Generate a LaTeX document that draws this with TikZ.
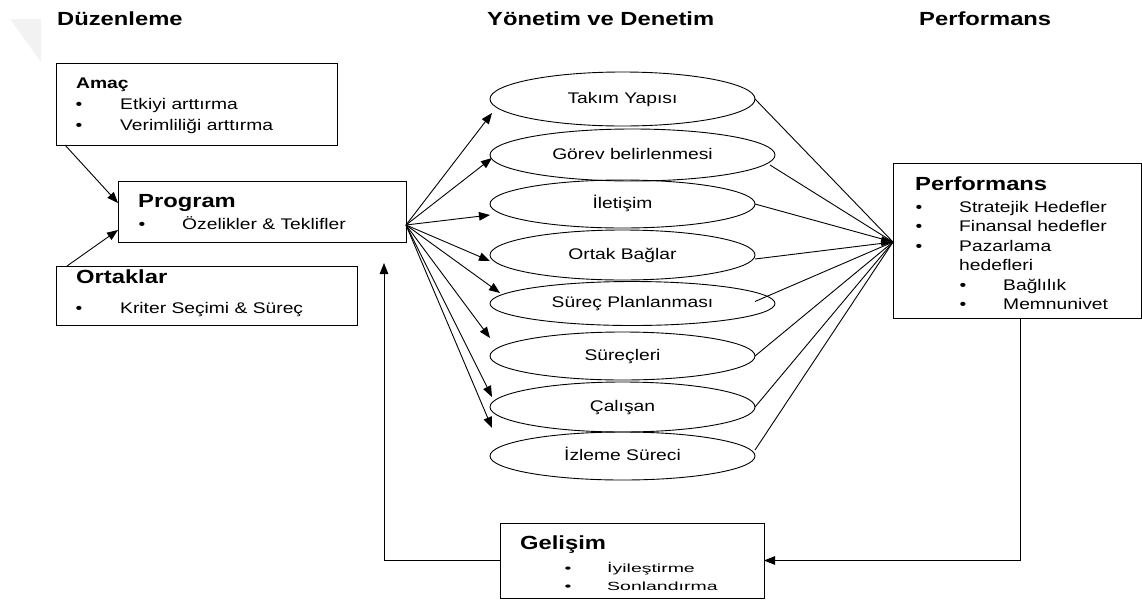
\documentclass[tikz,border=0pt]{standalone}
\usepackage{fontspec}
\setmainfont{Liberation Sans}[FakeStretch=1.25]
\newfontfamily\squashfont{Liberation Sans}[FakeStretch=1.65]
\usetikzlibrary{shapes.geometric,arrows.meta,calc}

\tikzset{
  box/.style={draw, line width=0.9pt, inner sep=0pt, outer sep=0pt, anchor=north west},
  oval/.style={draw, ellipse, line width=0.9pt, inner sep=0pt, outer sep=0pt,
    text height=11pt, text depth=3pt, font=\fontsize{15.4}{18}\selectfont},
  txt/.style={anchor=base west, inner sep=0pt, font=\fontsize{15.4}{18}\selectfont},
  smalltxt/.style={anchor=base west, inner sep=0pt, font=\squashfont\fontsize{11.8}{14}\selectfont},
  ttl/.style={anchor=base west, inner sep=0pt, font=\fontsize{19}{22}\selectfont\bfseries},
  subttl/.style={anchor=base west, inner sep=0pt, font=\fontsize{15.4}{18}\selectfont\bfseries},
  bul/.style={anchor=base, inner sep=0pt, font=\fontsize{15.4}{18}\selectfont},
  smallbul/.style={anchor=base, inner sep=0pt, font=\squashfont\fontsize{11.8}{14}\selectfont},
  arr/.style={-{Triangle[length=11pt,width=8.5pt]}, line width=0.9pt},
  linkline/.style={line width=0.9pt},
  hubarr/.style={-{Triangle[length=12pt,width=5pt]}, line width=0.9pt}
}

\begin{document}
\begin{tikzpicture}[x=1pt,y=-1pt]
\useasboundingbox (0,0) rectangle (1142,600);

% faint page corner
\fill[gray!10] (10,19) -- (41,19) -- (41,62) -- cycle;

% column headings
\node[ttl] (h1) at (57,25) {Düzenleme};
\node[ttl] (h2) at (487,25) {Yönetim ve Denetim};
\node[ttl] (h3) at (919,25) {Performans};

% left column boxes
\node[box, minimum width=281, minimum height=82] (amac) at (56,63) {};
\node[subttl] (amacT) at (76,88) {Amaç};
\node[bul] (amacD1) at (79,109) {•};
\node[txt] (amacL1) at (120,109) {Etkiyi arttırma};
\node[bul] (amacD2) at (79,130) {•};
\node[txt] (amacL2) at (120,130) {Verimliliği arttırma};

\node[box, minimum width=288, minimum height=61] (prog) at (118,181) {};
\node[ttl] (progT) at (138,207) {Program};
\node[bul] (progD1) at (142,229) {•};
\node[txt] (progL1) at (182,229) {Özelikler \& Teklifler};

\node[box, minimum width=301, minimum height=59] (ort) at (56,266) {};
\node[ttl] (ortT) at (76,283) {Ortaklar};
\node[bul] (ortD1) at (79,313) {•};
\node[txt] (ortL1) at (120,313) {Kriter Seçimi \& Süreç};

% management ellipses
\node[oval, minimum width=265, minimum height=54] (e1) at (622.5,99) {Takım Yapısı};
\node[oval, minimum width=285, minimum height=52] (e2) at (632.5,155) {Görev belirlenmesi};
\node[oval, minimum width=265, minimum height=48] (e3) at (622.5,204) {İletişim};
\node[oval, minimum width=265, minimum height=50] (e4) at (622.5,255) {Ortak Bağlar};
\node[oval, minimum width=285, minimum height=44] (e5) at (632.5,303.5) {Süreç Planlanması};
\node[oval, minimum width=265, minimum height=48] (e6) at (622.5,356) {Süreçleri};
\node[oval, minimum width=265, minimum height=50] (e7) at (622.5,407) {Çalışan};
\node[oval, minimum width=265, minimum height=48] (e8) at (622.5,456) {İzleme Süreci};

% performance box
\node[box, minimum width=248, minimum height=155] (perf) at (893,163) {};
\node[ttl] (perfT) at (915,190) {Performans};
\node[bul] (perfD1) at (919,212) {•};
\node[txt] (perfL1) at (959,212) {Stratejik Hedefler};
\node[bul] (perfD2) at (919,231.5) {•};
\node[txt] (perfL2) at (959,231.5) {Finansal hedefler};
\node[bul] (perfD3) at (919,251) {•};
\node[txt] (perfL3) at (959,251) {Pazarlama};
\node[txt] (perfL4) at (959,270.5) {hedefleri};
\node[bul] (perfD5) at (963,290) {•};
\node[txt] (perfL5) at (1003,290) {Bağlılık};
\node[bul] (perfD6) at (963,309.5) {•};
\node[txt] (perfL6) at (1003,309.5) {Memnunivet};

% improvement box
\node[box, minimum width=264, minimum height=75] (gel) at (500,523) {};
\node[ttl] (gelT) at (520,549) {Gelişim};
\node[smallbul] (gelD1) at (568,572) {•};
\node[smalltxt] (gelL1) at (607,572) {İyileştirme};
\node[smallbul] (gelD2) at (568,590) {•};
\node[smalltxt] (gelL2) at (607,590) {Sonlandırma};

% inputs into the program
\draw[arr] ($(amac.south west)+(9,0)$) -- ($(prog.west)+(0,-8.5)$);
\draw[arr] ($(ort.north west)+(11,0)$) -- ($(prog.west)+(0,18.5)$);

% program fans out to the ellipses
\coordinate (fan) at ($(prog.east)+(0,13.5)$);
\foreach \e/\dx/\dy in {e1/2/14, e2/2/3, e3/0/11, e4/0/6, e5/10/-10.5, e6/0/-18, e7/2/-10, e8/2/-28}
  \draw[arr] (fan) -- ($(\e.west)+(\dx,\dy)$);

% ellipses gather into performance
\coordinate (hub) at ($(perf.west)+(0,1.5)$);
\draw[linkline] (e1.east) -- (hub);
\draw[linkline] ($(e2.east)+(-5,10)$) -- (hub);
\draw[hubarr] (e3.east) -- (hub);
\draw[hubarr] ($(e4.east)+(0,4)$) -- (hub);
\draw[linkline] ($(e5.east)+(-20,-2)$) -- (hub);
\draw[linkline] (e6.east) -- (hub);
\draw[linkline] (e7.east) -- (hub);
\draw[linkline] ($(e8.east)+(0,-6)$) -- (hub);

% feedback loop
\coordinate (up) at (384,263);
\draw[arr] ($(perf.south)+(3,0)$) |- (gel.east);
\draw[arr] (gel.west) -| (up);
\end{tikzpicture}
\end{document}
